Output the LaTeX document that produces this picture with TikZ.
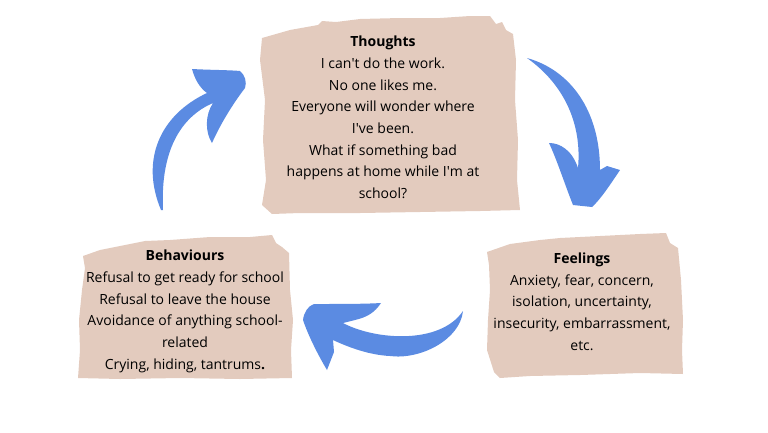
\documentclass[tikz,border=0pt]{standalone}
\usepackage{fontspec}
\setmainfont{Open Sans}
\definecolor{paper}{HTML}{E3CBBE}
\definecolor{arrowblue}{HTML}{5B8BE2}
\tikzset{
  card/.style={fill=paper},
  cardtext/.style={align=center, inner sep=0pt, text=black,
    font=\fontsize{14}{21.7}\selectfont},
  bigarrow/.style={fill=arrowblue}
}
\newcommand{\ap}{\textquotesingle}
\begin{document}
\begin{tikzpicture}[x=1pt,y=-1pt]
\useasboundingbox (0,0) rectangle (768,432);
% paper cards
\fill[card] (262,38) -- (290,30) -- (318,25) -- (322,21) -- (336,22) -- (360,19) -- (400,18) -- (440,18) -- (470,16) -- (490,16) -- (496,24) -- (502,22) -- (506,30) -- (513,34) -- (516,60) -- (515,100) -- (518,140) -- (517,180) -- (520,210) -- (480,211) -- (420,212) -- (360,213) -- (300,213) -- (272,214) -- (262,205) -- (266,180) -- (263,140) -- (265,100) -- (260,60) -- cycle;
\fill[card] (83,256) -- (100,250) -- (130,244) -- (145,241) -- (170,240) -- (210,237) -- (250,237) -- (272,235) -- (276,243) -- (282,247) -- (289,253) -- (290,290) -- (293,320) -- (291,350) -- (292,378) -- (240,379) -- (180,378) -- (120,379) -- (78,378) -- (80,350) -- (79,320) -- (82,290) -- (85,268) -- cycle;
\fill[card] (487,252) -- (510,244) -- (540,240) -- (560,238) -- (600,236) -- (640,234) -- (666,233) -- (670,243) -- (678,248) -- (681,280) -- (683,320) -- (682,350) -- (683,374) -- (640,373) -- (580,375) -- (530,376) -- (500,378) -- (494,372) -- (487,350) -- (488,320) -- (490,290) -- (489,265) -- cycle;
% texts
\node[cardtext] (t) at (383,117.5) {\textbf{Thoughts}\\I can\ap t do the work.\\No one likes me.\\Everyone will wonder where\\I\ap ve been.\\What if something bad\\happens at home while I\ap m at\\school?};
\node[cardtext] (b) at (185,311.5) {\textbf{Behaviours}\\Refusal to get ready for school\\Refusal to leave the house\\Avoidance of anything school-\\related\\Crying, hiding, tantrums\textbf{.}};
\node[cardtext] (f) at (582,301.5) {\textbf{Feelings}\\Anxiety, fear, concern,\\isolation, uncertainty,\\insecurity, embarrassment,\\etc.};
% arrows
\fill[bigarrow] (527,58) .. controls (570,70) and (600,110) .. (600,170) -- (607,166) -- (620,170) .. controls (610,185) and (600,200) .. (592,207) -- (573,205) .. controls (565,185) and (557,160) .. (549,143) .. controls (560,143) and (572,150) .. (578,168) .. controls (582,125) and (565,85) .. (527,58) -- cycle;
\fill[bigarrow] (161,210) .. controls (140,160) and (160,115) .. (207,93) .. controls (200,88) and (195,80) .. (192,69) .. controls (210,70) and (230,70) .. (240,71) .. controls (245,75) and (247,82) .. (245,88) .. controls (232,105) and (220,125) .. (212,143) .. controls (205,132) and (205,115) .. (213,103) .. controls (185,115) and (160,145) .. (163,210) -- cycle;
\fill[bigarrow] (463,311) .. controls (460,340) and (420,360) .. (390,356) .. controls (370,355) and (350,348) .. (333,340) -- (334,352) -- (327,370) .. controls (318,355) and (308,335) .. (303,320) .. controls (304,312) and (308,306) .. (314,304) .. controls (340,304) and (365,304) .. (381,303) .. controls (375,312) and (368,317) .. (355,320) -- (343,323) .. controls (375,340) and (440,345) .. (463,311) -- cycle;
\end{tikzpicture}
\end{document}
